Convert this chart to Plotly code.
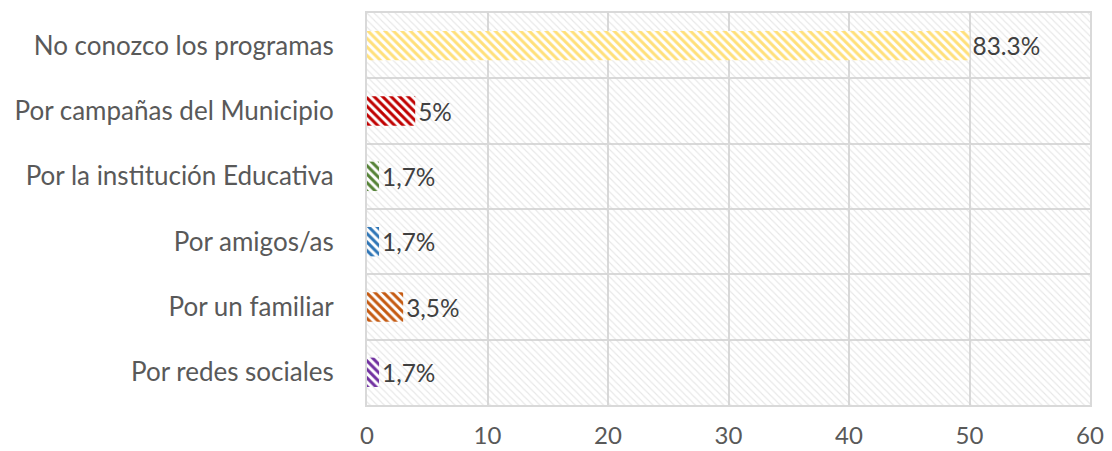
import plotly.graph_objects as go

categories = [
    "No conozco los programas",
    "Por campañas del Municipio",
    "Por la institución Educativa",
    "Por amigos/as",
    "Por un familiar",
    "Por redes sociales",
]
values = [50, 4, 1, 1, 3, 1]
labels = ["83.3%", "5%", "1,7%", "1,7%", "3,5%", "1,7%"]
colors = ["#FFE07A", "#C00000", "#548235", "#2E75B6", "#C55A11", "#7030A0"]
x_max = 60
x_ticks = [0, 10, 20, 30, 40, 50, 60]

fig = go.Figure()

# hatched plot-area background (one full-width band per category row)
fig.add_trace(go.Bar(
    y=categories, x=[x_max] * len(categories), orientation="h", width=1,
    marker=dict(color="#D0D0D0", line=dict(width=0),
                pattern=dict(shape="\\", size=5, solidity=0.22,
                             fgcolor="#D0D0D0", bgcolor="rgba(0,0,0,0)")),
    hoverinfo="skip", showlegend=False,
))

for cat, val, lab, col in zip(categories, values, labels, colors):
    fig.add_trace(go.Bar(
        y=[cat], x=[val], orientation="h", width=0.45,
        marker=dict(color=col, line=dict(width=0),
                    pattern=dict(shape="\\", size=6, solidity=0.5,
                                 fgcolor=col, bgcolor="#FFFFFF",
                                 fgopacity=1, fillmode="replace")),
        text=[lab], textposition="outside", cliponaxis=False,
        textfont=dict(family="Lato", size=29, color="#404040"),
        showlegend=False,
    ))

fig.update_layout(
    width=1104, height=443,
    margin=dict(l=359, r=22, t=5, b=46),
    paper_bgcolor="white", plot_bgcolor="white",
    barmode="overlay",
    font=dict(family="Lato", size=26, color="#595959"),
    xaxis=dict(range=[0, x_max], tickvals=x_ticks, showgrid=True,
               gridcolor="#D9D9D9", gridwidth=2, zeroline=False,
               showline=True, linecolor="#D9D9D9", linewidth=2, mirror=True,
               ticks="", ticklabelstandoff=8, automargin=False,
               tickfont=dict(family="Lato", size=24, color="#595959"),
               fixedrange=True),
    yaxis=dict(type="category", categoryorder="array", categoryarray=categories,
               autorange="reversed", tickson="boundaries", showgrid=True,
               gridcolor="#D9D9D9", gridwidth=2, automargin=False,
               showline=True, linecolor="#D9D9D9", linewidth=2, mirror=True,
               ticks="", ticklabelstandoff=26,
               tickfont=dict(family="Lato", size=26, color="#595959"),
               fixedrange=True),
)

fig.write_html("out.html")
